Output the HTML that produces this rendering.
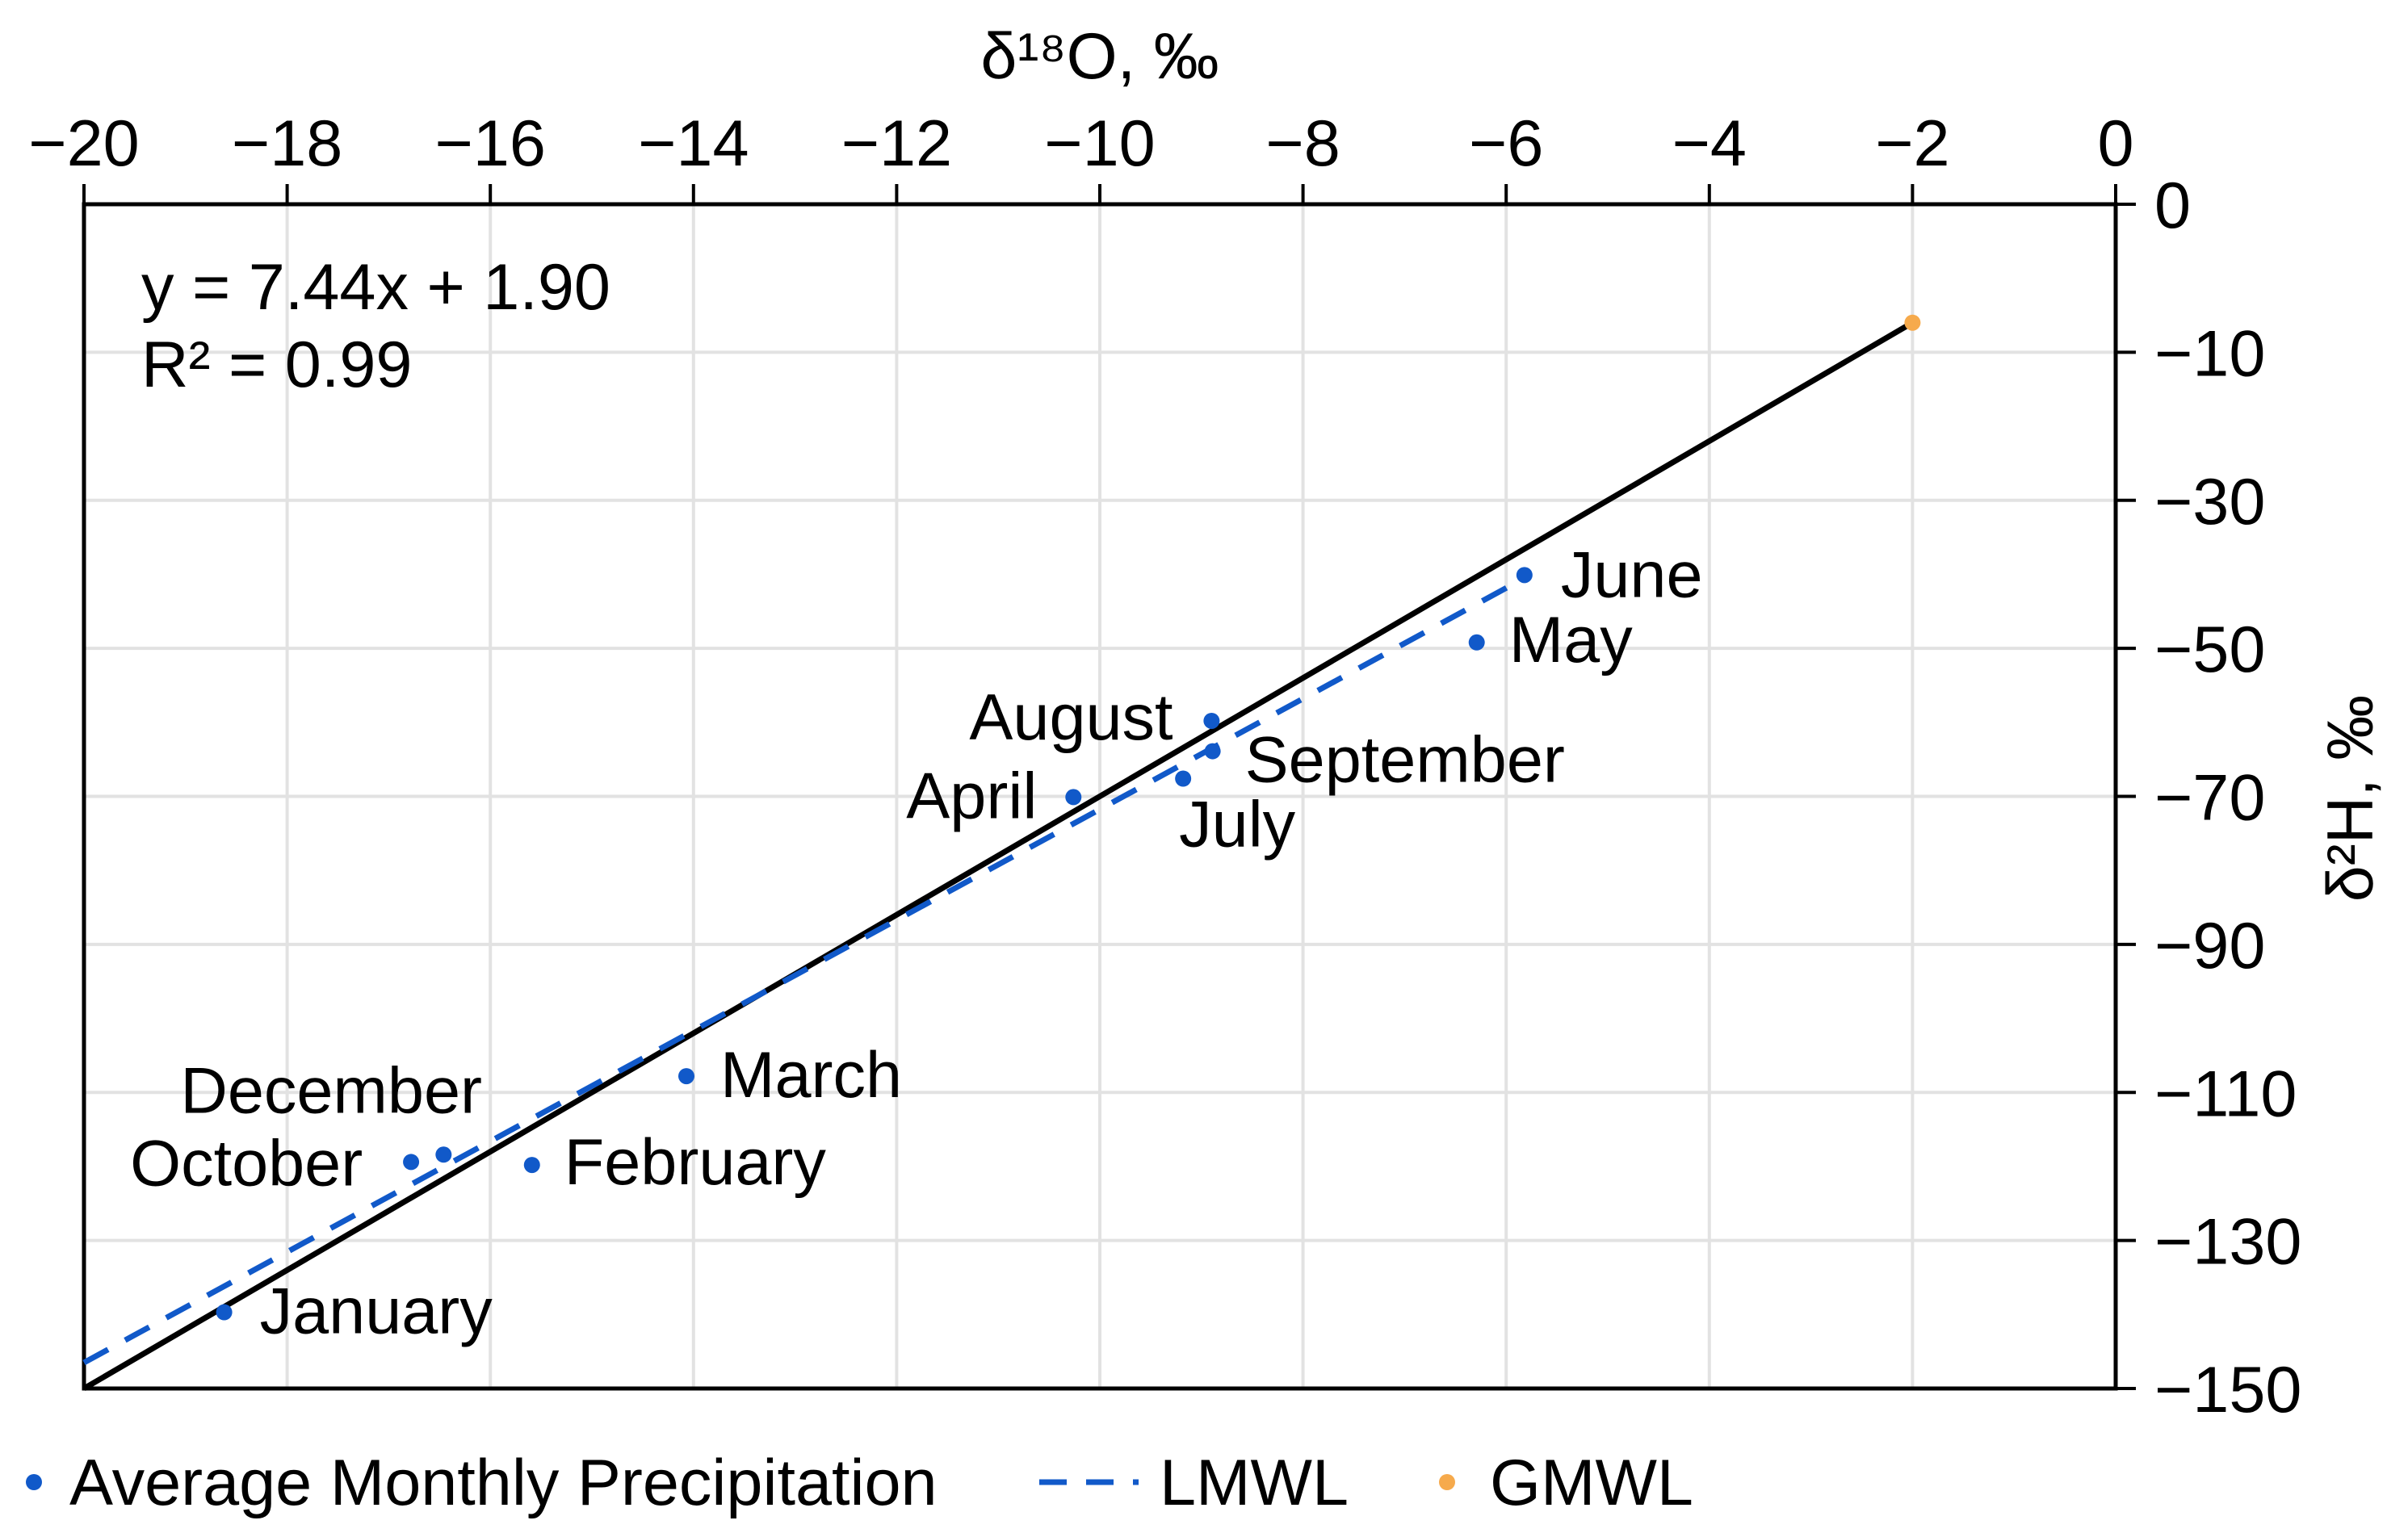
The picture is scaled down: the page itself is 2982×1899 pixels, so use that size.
<!DOCTYPE html>
<html><head><meta charset="utf-8"><style>
html,body{margin:0;padding:0;background:#fff;}
svg{display:block;font-family:"Liberation Sans",sans-serif;}
</style></head><body>
<svg id="chart" width="2982" height="1899" viewBox="0 0 2982 1899" xmlns="http://www.w3.org/2000/svg">
<g id="grid"></g>
<g id="axes"></g>
<g id="marks"></g>
<g id="legend"></g>
</svg>
<script>
const months = ["June","May","August","September","July","April","March","February","December","October","January"];
const d18O = [-5.82,-6.29,-8.90,-8.89,-9.18,-10.26,-14.07,-15.59,-16.46,-16.78,-18.62];
const d2H = [-50.1,-59.2,-69.8,-73.9,-77.6,-80.1,-117.8,-129.8,-128.4,-129.4,-149.7];
const xTicks = [-20,-18,-16,-14,-12,-10,-8,-6,-4,-2,0];
const yTicks = [0,-20,-40,-60,-80,-100,-120,-140,-160];
const yTickLabels = ["0","\u221210","\u221230","\u221250","\u221270","\u221290","\u2212110","\u2212130","\u2212150"];
const lmwlX = [-20,-5.9];
const lmwlY = [-156.5,-51.1];
const gmwlLineX = [-20,-2];
const gmwlLineY = [-160,-16];
const gmwlPointX = [-2];
const gmwlPointY = [-16];
// label offsets (layout, not data)
const labelDx = [45,40,-300,40,-5,-207,42,40,-326,-348,44];
const labelDy = [27,24,23,38,84,26,26,24,-52,29,26];

const X0=104,X1=2620,Y0=253,Y1=1720;
const sx=v=>X0+(v-(-20))/20*(X1-X0);
const sy=v=>Y0+(0-v)/160*(Y1-Y0);
const NS="http://www.w3.org/2000/svg";
function mk(parent,tag,attrs){const e=document.createElementNS(NS,tag);for(const k in attrs)e.setAttribute(k,attrs[k]);document.getElementById(parent).appendChild(e);return e;}
const FS=81;

xTicks.forEach(t=>{
  if(t>-20&&t<0){const g=mk('grid','line',{x1:sx(t),x2:sx(t),y1:Y0,y2:Y1,stroke:'#e2e2e2','stroke-width':4});
  
  }
  const tk=mk('axes','line',{x1:sx(t),x2:sx(t),y1:Y0-25,y2:Y0,stroke:'#000','stroke-width':4});
  
  
  const lb=mk('axes','text',{x:sx(t),y:205,'font-size':FS,'text-anchor':'middle',fill:'#000'});
  lb.textContent=t===0?"0":"\u2212"+Math.abs(t);
  
  
});
yTicks.forEach((t,i)=>{
  if(t<0&&t>-160){const g=mk('grid','line',{x1:X0,x2:X1,y1:sy(t),y2:sy(t),stroke:'#e2e2e2','stroke-width':4});
  
  }
  const tk=mk('axes','line',{x1:X1,x2:X1+25,y1:sy(t),y2:sy(t),stroke:'#000','stroke-width':4});
  
  
  const lb=mk('axes','text',{x:2668,y:sy(t)+29,'font-size':FS,fill:'#000'});
  lb.textContent=yTickLabels[i];
  
  
});
const frame=mk('axes','path',{d:`M${X0},${Y1} L${X0},${Y0} L${X1},${Y0} L${X1},${Y1} Z`,fill:'none',stroke:'#000','stroke-width':5});


const xt=mk('axes','text',{x:1362,y:97,'font-size':FS,'text-anchor':'middle',fill:'#000'});
xt.textContent="δ¹⁸O, ‰";


const yt=mk('axes','text',{x:0,y:0,'font-size':FS,'text-anchor':'middle',fill:'#000',transform:'translate(2938,989) rotate(-90)'});
yt.textContent="δ²H, ‰";


const eq1=mk('axes','text',{x:175,y:383,'font-size':FS,fill:'#000'});
eq1.textContent="y = 7.44x + 1.90";


const eq2=mk('axes','text',{x:175,y:479,'font-size':FS,fill:'#000'});
eq2.textContent="R² = 0.99";



const gl=mk('marks','line',{x1:sx(gmwlLineX[0]),y1:sy(gmwlLineY[0]),x2:sx(gmwlLineX[1]),y2:sy(gmwlLineY[1]),stroke:'#000','stroke-width':7});


const ll=mk('marks','line',{x1:sx(lmwlX[0]),y1:sy(lmwlY[0]),x2:sx(lmwlX[1]),y2:sy(lmwlY[1]),stroke:'#1159c9','stroke-width':7,'stroke-dasharray':'34 24'});


gmwlPointX.forEach((v,i)=>{
  const c=mk('marks','circle',{cx:sx(v),cy:sy(gmwlPointY[i]),r:10,fill:'#f6aa4c'});
  
  
});
months.forEach((m,i)=>{
  const c=mk('marks','circle',{cx:sx(d18O[i]),cy:sy(d2H[i]),r:10,fill:'#1159c9'});
  
  
  const t=mk('marks','text',{x:sx(d18O[i])+labelDx[i],y:sy(d2H[i])+labelDy[i],'font-size':FS,fill:'#000'});
  t.textContent=m;
  
  
});

const l1=mk('legend','circle',{cx:42,cy:1836,r:10,fill:'#1159c9'});


const l1t=mk('legend','text',{x:86,y:1864,'font-size':FS,fill:'#000'});
l1t.textContent="Average Monthly Precipitation";


const l2=mk('legend','line',{x1:1287,x2:1410,y1:1836,y2:1836,stroke:'#1159c9','stroke-width':7,'stroke-dasharray':'34 24'});


const l2t=mk('legend','text',{x:1436,y:1864,'font-size':FS,fill:'#000'});
l2t.textContent="LMWL";


const l3=mk('legend','circle',{cx:1792,cy:1836,r:10,fill:'#f6aa4c'});


const l3t=mk('legend','text',{x:1845,y:1864,'font-size':FS,fill:'#000'});
l3t.textContent="GMWL";


</script>
</body></html>
